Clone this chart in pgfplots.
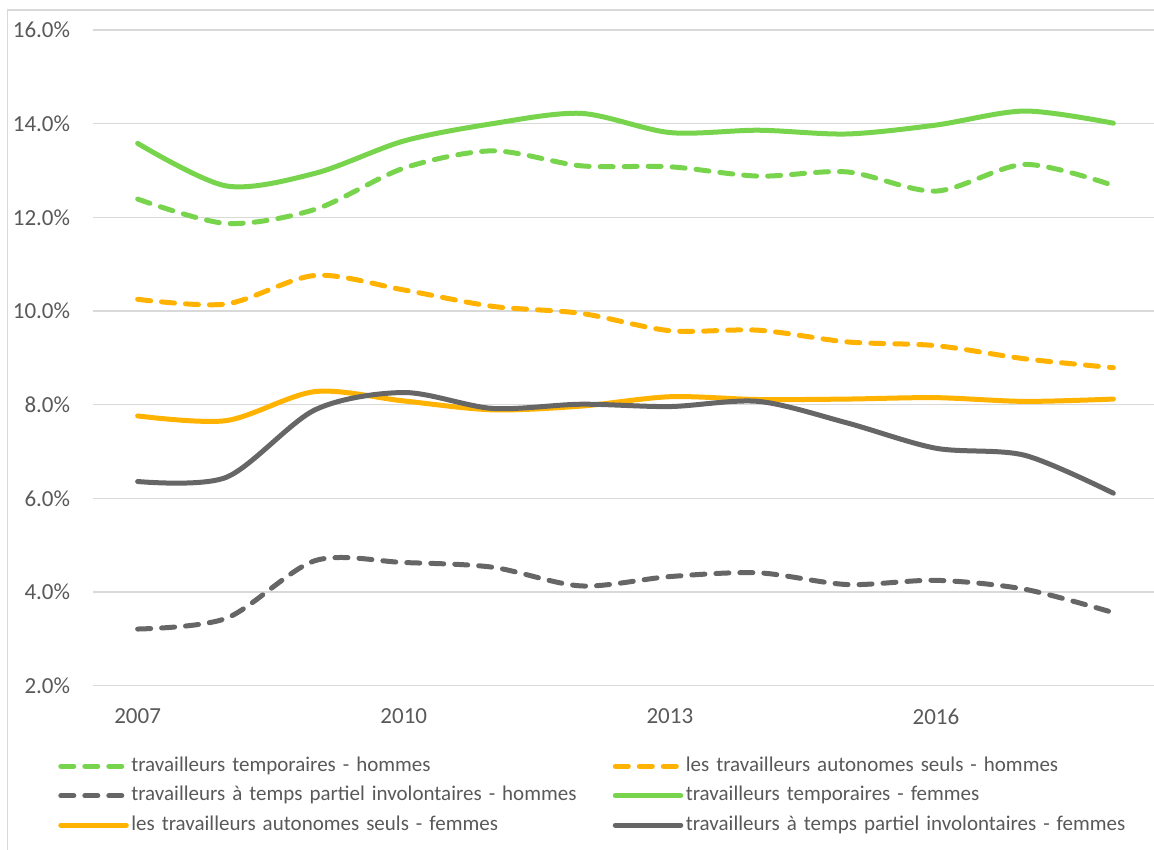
\documentclass[border=0pt]{standalone}
\usepackage{fontspec}
\setmainfont{Carlito}
\usepackage{pgfplots}
\pgfplotsset{compat=1.18}
\definecolor{cgreen}{HTML}{78D44C}
\definecolor{corange}{HTML}{FFB300}
\definecolor{cgray}{HTML}{666666}
\definecolor{cgrid}{HTML}{D9D9D9}
\definecolor{ctext}{HTML}{595959}
\begin{document}
\begin{tikzpicture}
\begin{axis}[name=ax, scale only axis, width=1064.4pt, height=655.7pt,
  xmin=2006.5, xmax=2018.5, ymin=2, ymax=16,
  xtick={2007,2010,2013,2016}, xticklabels={2007,2010,2013,2016},
  ytick={2,4,...,16},
  yticklabel={\pgfmathprintnumber[fixed,fixed zerofill,precision=1]{\tick}\%},
  /pgf/number format/assume math mode=true,
  ymajorgrids, grid style={cgrid, line width=1.3pt},
  axis line style={draw=none},
  major tick length=0pt,
  tick label style={font=\fontsize{23}{27}\selectfont, text=ctext},
  yticklabel style={anchor=east, inner sep=0pt, xshift=-23pt},
  xticklabel style={anchor=north, inner sep=0pt, yshift=-23pt},
  legend columns=2,
  legend cell align=left,
  legend image code/.code={\draw[#1] (0pt,0pt) -- (65.5pt,0pt);},
  legend style={draw=none, fill=none, inner sep=0pt, outer sep=0pt,
    at={(0,0)}, anchor=north west, xshift=-35pt, yshift=-70.5pt,
    column sep=2.5pt, row sep=9.5pt,
    font=\fontsize{21}{25}\selectfont, text=ctext,
    nodes={inner sep=0pt, text height=15pt, text depth=5pt, text width=479pt}},
  every axis plot/.append style={line width=5pt, smooth, line cap=round, line join=round},
  dashstyle/.style={dash pattern=on 13pt off 11pt},
]
\addplot[cgreen, dashstyle] coordinates {(2007,12.39) (2008,11.87) (2009,12.17) (2010,13.05) (2011,13.42) (2012,13.10) (2013,13.08) (2014,12.88) (2015,12.97) (2016,12.56) (2017,13.13) (2018,12.68)};
\addlegendentry{travailleurs temporaires - hommes}
\addplot[corange, dashstyle] coordinates {(2007,10.25) (2008,10.15) (2009,10.76) (2010,10.45) (2011,10.10) (2012,9.95) (2013,9.58) (2014,9.59) (2015,9.34) (2016,9.26) (2017,8.98) (2018,8.79)};
\addlegendentry{les travailleurs autonomes seuls - hommes}
\addplot[cgray, dashstyle] coordinates {(2007,3.21) (2008,3.44) (2009,4.67) (2010,4.63) (2011,4.53) (2012,4.13) (2013,4.33) (2014,4.41) (2015,4.16) (2016,4.25) (2017,4.06) (2018,3.56)};
\addlegendentry{travailleurs à temps partiel involontaires - hommes}
\addplot[cgreen] coordinates {(2007,13.58) (2008,12.67) (2009,12.94) (2010,13.63) (2011,14.00) (2012,14.22) (2013,13.81) (2014,13.86) (2015,13.78) (2016,13.97) (2017,14.27) (2018,14.01)};
\addlegendentry{travailleurs temporaires - femmes}
\addplot[corange] coordinates {(2007,7.76) (2008,7.66) (2009,8.28) (2010,8.08) (2011,7.89) (2012,7.97) (2013,8.17) (2014,8.11) (2015,8.12) (2016,8.15) (2017,8.07) (2018,8.12)};
\addlegendentry{les travailleurs autonomes seuls - femmes}
\addplot[cgray] coordinates {(2007,6.36) (2008,6.45) (2009,7.89) (2010,8.26) (2011,7.92) (2012,8.01) (2013,7.96) (2014,8.07) (2015,7.61) (2016,7.07) (2017,6.92) (2018,6.11)};
\addlegendentry{travailleurs à temps partiel involontaires - femmes}
\end{axis}
\draw[cgrid, line width=1.5pt] ([shift={(-86pt,-200pt)}]ax.south west) |- ([shift={(50pt,20pt)}]ax.north east);
\pgfresetboundingbox
\path[use as bounding box] ([shift={(-93.3pt,-163.3pt)}]ax.south west) rectangle ([shift={(-3.7pt,30pt)}]ax.north east);
\end{tikzpicture}
\end{document}
